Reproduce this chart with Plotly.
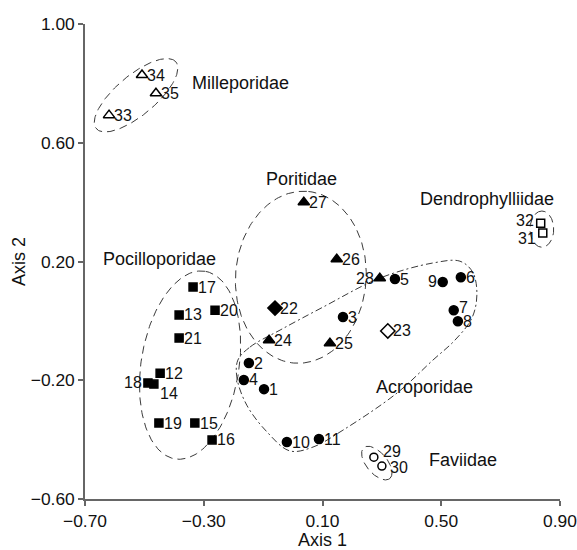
import numpy as np
import plotly.graph_objects as go

# ---- data ----
ids = list(range(1, 36))
axis1 = [-0.097, -0.148, 0.169, -0.165, 0.344, 0.566, 0.542, 0.556, 0.505, -0.020, 0.088,
         -0.447, -0.383, -0.468, -0.330, -0.272, -0.336, -0.488, -0.451, -0.262, -0.383,
         -0.060, 0.320, -0.080, 0.125, 0.148, 0.037, 0.293,
         0.273, 0.300, 0.842, 0.835, -0.619, -0.508, -0.461]
axis2 = [-0.230, -0.142, 0.013, -0.199, 0.141, 0.147, 0.036, -0.001, 0.131, -0.408, -0.398,
         -0.176, 0.020, -0.213, -0.344, -0.401, 0.114, -0.209, -0.344, 0.036, -0.058,
         0.043, -0.034, -0.065, -0.075, 0.208, 0.400, 0.144,
         -0.459, -0.489, 0.296, 0.329, 0.693, 0.828, 0.767]
symbols = (["circle"] * 11 + ["square"] * 10 + ["diamond", "diamond-open"] +
           ["triangle-up"] * 5 + ["circle-open"] * 2 + ["square-open"] * 2 +
           ["triangle-up-open"] * 3)

# family labels
families = ["Milleporidae", "Poritidae", "Dendrophylliidae", "Pocilloporidae", "Acroporidae", "Faviidae"]
fam_x = [-0.346, -0.097, 0.421, -0.646, 0.273, 0.452]
fam_y = [0.801, 0.477, 0.410, 0.208, -0.223, -0.469]

# ellipses: centre x, centre y, semi-major, semi-minor, angle (deg)
ell_cx = [-0.528, -0.346, 0.027, 0.839, 0.283]
ell_cy = [0.760, -0.149, 0.147, 0.309, -0.479]
ell_a = [0.175, 0.320, 0.290, 0.061, 0.068]
ell_b = [0.067, 0.165, 0.220, 0.040, 0.035]
ell_ang = [40, 81, 86, 90, -50]

# Acroporidae outline (hand-drawn enclosure)
acro_x = [-0.185, -0.144, -0.043, 0.101, 0.293, 0.472, 0.563, 0.606, 0.620, 0.603, 0.546,
          0.472, 0.351, 0.169, 0.068, -0.010, -0.087, -0.155, -0.188, -0.185]
acro_y = [-0.132, -0.088, -0.031, 0.046, 0.144, 0.195, 0.201, 0.164, 0.087, 0.009, -0.065,
          -0.132, -0.243, -0.368, -0.425, -0.438, -0.374, -0.284, -0.193, -0.132]

x_ticks = [-0.7, -0.3, 0.1, 0.5, 0.9]
y_ticks = [-0.6, -0.2, 0.2, 0.6, 1.0]

# ---- styling ----
FONT = "Arial, 'Liberation Sans', sans-serif"
INK = "#111111"
LINE = "#3a3a3a"
# label placement tweaks (pixel offsets): id -> (anchor, xshift, yshift)
label_style = {9: ("right", -5, 0), 18: ("right", -5, 0), 28: ("right", -5, 0),
               32: ("right", -6, 3), 31: ("right", -6, -5),
               14: ("left", 5, -9), 29: ("left", 8, 6), 30: ("left", 7, -1),
               7: ("left", 4, 3)}

fig = go.Figure()

t = np.linspace(0, 2 * np.pi, 200)
for cx, cy, a, b, ang in zip(ell_cx, ell_cy, ell_a, ell_b, ell_ang):
    th = np.deg2rad(ang)
    ex = cx + a * np.cos(t) * np.cos(th) - b * np.sin(t) * np.sin(th)
    ey = cy + a * np.cos(t) * np.sin(th) + b * np.sin(t) * np.cos(th)
    fig.add_trace(go.Scatter(x=ex, y=ey, mode="lines", hoverinfo="skip",
                             line=dict(color=LINE, width=1, dash="8px,5px")))

fig.add_trace(go.Scatter(x=acro_x, y=acro_y, mode="lines", hoverinfo="skip",
                         line=dict(color=LINE, width=1, dash="7px,3px,2px,3px",
                                   shape="spline", smoothing=1.0)))

sizes = []
for s in symbols:
    if s == "square":
        sizes.append(8)
    elif s.startswith("triangle"):
        sizes.append(10)
    elif s.startswith("diamond"):
        sizes.append(11)
    elif s == "circle":
        sizes.append(9)
    else:
        sizes.append(8)

fig.add_trace(go.Scatter(
    x=axis1, y=axis2, mode="markers",
    marker=dict(symbol=symbols, size=sizes, color="#000000", opacity=1,
                line=dict(color="#000000", width=1.5)),
    cliponaxis=False, hovertext=[str(i) for i in ids], hoverinfo="text"))

for i, px, py in zip(ids, axis1, axis2):
    anchor, dx, dy = label_style.get(i, ("left", 4, 0))
    fig.add_annotation(x=px, y=py, text=str(i), showarrow=False, xanchor=anchor,
                       yanchor="middle", xshift=dx, yshift=dy, borderpad=0,
                       font=dict(family=FONT, size=16, color=INK))

for name, fx, fy in zip(families, fam_x, fam_y):
    fig.add_annotation(x=fx, y=fy, text=name, showarrow=False, xanchor="left",
                       yanchor="middle", font=dict(family=FONT, size=18, color=INK))

axis_common = dict(showgrid=False, zeroline=False, showline=True, linecolor="#666666",
                   linewidth=1.5, ticks="outside", ticklen=5, tickcolor="#666666",
                   tickwidth=1.5, tickformat=".2f", automargin=False,
                   ticklabeloverflow="allow",
                   tickfont=dict(family=FONT, size=17.4, color=INK))

fig.update_layout(
    width=577, height=550, showlegend=False,
    plot_bgcolor="white", paper_bgcolor="white",
    margin=dict(l=85, r=17, t=24, b=51),
    xaxis=dict(range=[-0.7, 0.9], tickvals=x_ticks,
               title=dict(text="Axis 1", font=dict(family=FONT, size=18, color=INK), standoff=2),
               **axis_common),
    yaxis=dict(range=[-0.6, 1.0], tickvals=y_ticks,
               title=dict(text="Axis 2", font=dict(family=FONT, size=18, color=INK), standoff=0),
               **axis_common),
)

fig.write_html("out.html", config={"displayModeBar": False},
               post_script="document.body.style.margin='0';document.body.style.overflow='hidden';")
